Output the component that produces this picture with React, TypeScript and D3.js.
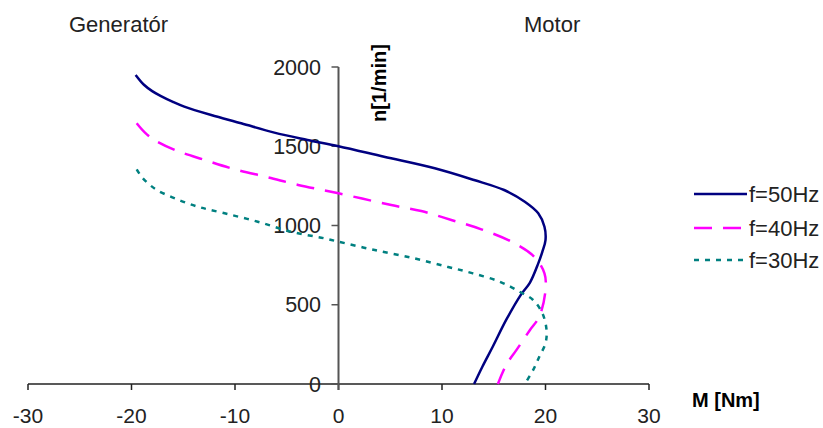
import React from "react";
import * as d3 from "d3";

const xTicks = [-30, -20, -10, 0, 10, 20, 30];
const yTicks = [0, 500, 1000, 1500, 2000];

const M50 = [-19.6, -18.8, -18.0, -17.2, -16.0, -14.9, -12.3, -9.4, -6.2, -3.0, 0, 4.4, 9.3, 13.1, 16.0, 18.0, 19.3, 19.9, 20.0, 19.7, 19.3, 18.5, 17.6, 16.2, 14.9, 13.9, 13.1];
const n50 = [1950, 1888, 1848, 1818, 1780, 1750, 1697, 1645, 1586, 1540, 1500, 1434, 1361, 1287, 1224, 1150, 1077, 992, 908, 835, 761, 640, 561, 404, 235, 109, 0];

const M40 = [-19.5, -18.7, -17.8, -15.8, -12.9, -10.0, -6.8, -3.9, 0, 5.1, 8.0, 10.9, 13.8, 16.7, 18.9, 19.9, 20.0, 19.4, 18.5, 17.2, 16.2, 15.4];
const n40 = [1645, 1586, 1540, 1476, 1413, 1354, 1304, 1256, 1203, 1129, 1091, 1035, 976, 898, 803, 698, 593, 425, 341, 215, 120, 0];

const M30 = [-19.5, -19.0, -18.3, -17.5, -15.8, -13.6, -11.0, -7.8, -4.6, -1.35, 0, 3.5, 7.3, 10.5, 13.0, 15.6, 17.5, 18.8, 19.7, 20.1, 20.0, 19.4, 18.8, 18.0];
const n30 = [1354, 1305, 1260, 1222, 1171, 1119, 1077, 1024, 961, 919, 898, 845, 793, 740, 698, 645, 582, 530, 446, 341, 257, 172, 88, 0];

const seriesNames = ["f=50Hz", "f=40Hz", "f=30Hz"];

const series = [
  { name: seriesNames[0], M: M50, n: n50, color: "#000080", dash: "none" },
  { name: seriesNames[1], M: M40, n: n40, color: "#FF00FF", dash: "18,11" },
  { name: seriesNames[2], M: M30, n: n30, color: "#008080", dash: "5,6" },
];

export default function App() {
  const x = d3.scaleLinear().domain([-30, 30]).range([28, 649]);
  const y = d3.scaleLinear().domain([0, 2000]).range([384, 67]);
  const line = d3
    .line<[number, number]>()
    .x((d) => x(d[0]))
    .y((d) => y(d[1]))
    .curve(d3.curveCatmullRom.alpha(0.5));

  const font = "'Liberation Sans', Arial, sans-serif";
  const textColor = "#222";

  return (
    <svg
      width={823}
      height={428}
      style={{ position: "absolute", left: 0, top: 0, background: "#fff" }}
      fontFamily={font}
    >
      <rect width={823} height={428} fill="#fff" />
      {/* x axis */}
      <line x1={x(-30)} x2={x(30)} y1={y(0)} y2={y(0)} stroke="#222" strokeWidth={1.5} />
      {xTicks.map((t) => (
        <g key={"xt" + t}>
          <line x1={x(t)} x2={x(t)} y1={y(0)} y2={y(0) + 6} stroke="#222" strokeWidth={1.5} />
          <text x={x(t)} y={423} textAnchor="middle" fontSize={21} fill={textColor}>
            {t}
          </text>
        </g>
      ))}
      {/* y axis */}
      <line x1={x(0)} x2={x(0)} y1={y(0) + 6} y2={y(2000)} stroke="#555" strokeWidth={2} />
      {yTicks.map((t) => (
        <g key={"yt" + t}>
          <line x1={x(0) - 7} x2={x(0)} y1={y(t)} y2={y(t)} stroke="#555" strokeWidth={1.5} />
          <text x={321} y={y(t) + 7.5} textAnchor="end" fontSize={21.5} fill={textColor}>
            {t}
          </text>
        </g>
      ))}
      {/* series */}
      {series.map((s) => (
        <path
          key={s.name}
          d={line(s.M.map((m, i) => [m, s.n[i]] as [number, number])) || ""}
          fill="none"
          stroke={s.color}
          strokeWidth={2.5}
          strokeDasharray={s.dash}
        />
      ))}
      {/* labels */}
      <text x={69} y={32} fontSize={22} fill={textColor}>Generatór</text>
      <text x={524} y={32} fontSize={22} fill={textColor}>Motor</text>
      <text
        transform="translate(386,83) rotate(-90)"
        textAnchor="middle"
        fontSize={20}
        fontWeight="bold"
        fill="#000"
      >
        n[1/min]
      </text>
      <text x={692} y={407} fontSize={20} fontWeight="bold" fill="#000">M [Nm]</text>
      {/* legend */}
      {series.map((s, i) => {
        const ly = [194, 228, 260][i];
        return (
          <g key={"lg" + s.name}>
            <line x1={694} x2={747} y1={ly} y2={ly} stroke={s.color} strokeWidth={2.5} strokeDasharray={s.dash} />
            <text x={749} y={ly + 7.5} fontSize={22} fill={textColor}>{s.name}</text>
          </g>
        );
      })}
    </svg>
  );
}
